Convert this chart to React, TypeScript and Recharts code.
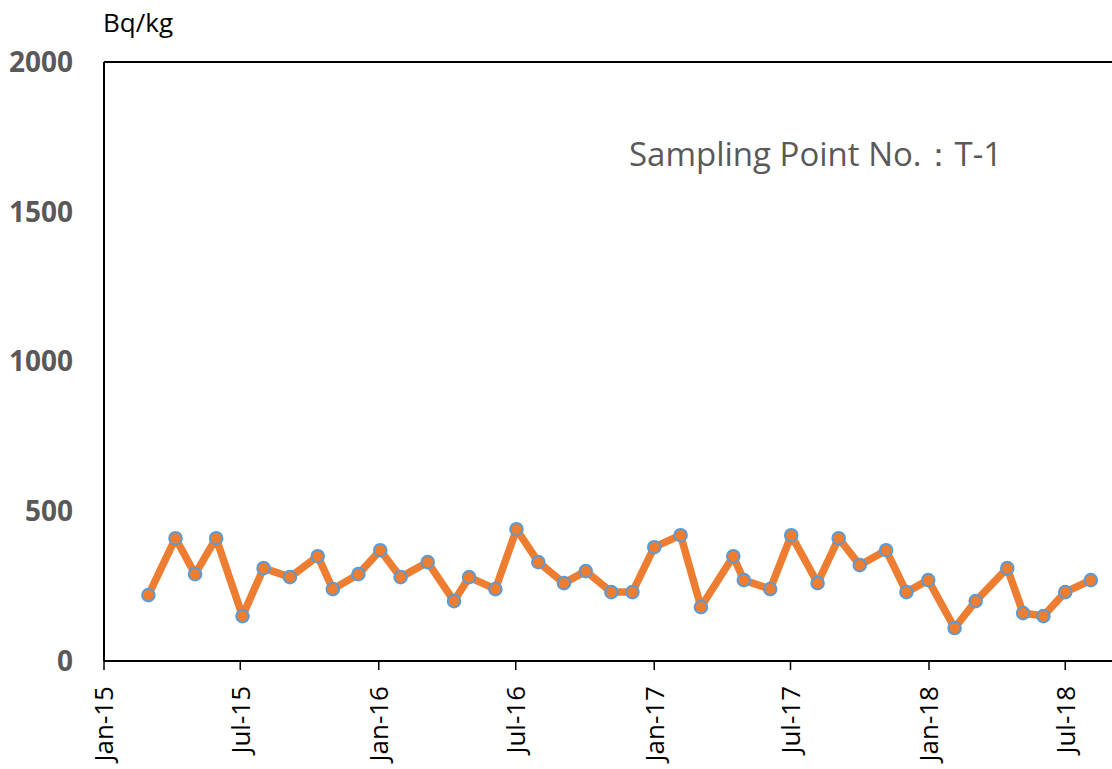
import { LineChart, Line, XAxis, YAxis, ReferenceLine } from 'recharts';

const sampleDates = [
  '2015-03-01', '2015-04-06', '2015-05-02', '2015-05-30', '2015-07-04', '2015-08-01',
  '2015-09-05', '2015-10-12', '2015-11-01', '2015-12-05', '2016-01-03', '2016-01-30',
  '2016-03-06', '2016-04-10', '2016-04-30', '2016-06-04', '2016-07-02', '2016-07-31',
  '2016-09-03', '2016-10-02', '2016-11-05', '2016-12-03', '2017-01-01', '2017-02-05',
  '2017-03-04', '2017-04-16', '2017-04-30', '2017-06-04', '2017-07-02', '2017-08-06',
  '2017-09-03', '2017-10-01', '2017-11-05', '2017-12-02', '2017-12-31', '2018-02-04',
  '2018-03-04', '2018-04-15', '2018-05-06', '2018-06-02', '2018-07-01', '2018-08-04',
];
const activity = [
  220, 410, 290, 410, 150, 310,
  280, 350, 240, 290, 370, 280,
  330, 200, 280, 240, 440, 330,
  260, 300, 230, 230, 380, 420,
  180, 350, 270, 240, 420, 260,
  410, 320, 370, 230, 270, 110,
  200, 310, 160, 150, 230, 270,
];
const xTickDates = [
  '2015-01-01', '2015-07-01', '2016-01-01', '2016-07-01',
  '2017-01-01', '2017-07-01', '2018-01-01', '2018-07-01',
];
const yTicks = [0, 500, 1000, 1500, 2000];
const xStart = '2015-01-01';
const xEnd = '2018-12-31';
const months = ['Jan', 'Feb', 'Mar', 'Apr', 'May', 'Jun', 'Jul', 'Aug', 'Sep', 'Oct', 'Nov', 'Dec'];

const toTime = (s: string) => Date.parse(s + 'T00:00:00Z');
const data = sampleDates.map((d, i) => ({ t: toTime(d), value: activity[i] }));

const fmtDate = (t: number) => {
  const d = new Date(t);
  return `${months[d.getUTCMonth()]}-${String(d.getUTCFullYear()).slice(2)}`;
};

const FONT = '"Open Sans", sans-serif';

const DateTick = ({ x, payload }: any) => (
  <text
    transform={`translate(${x},686) rotate(-90)`}
    textAnchor="end"
    dy="0.36em"
    fontFamily={FONT}
    fontSize={26}
    fill="#000"
  >
    {fmtDate(payload.value)}
  </text>
);

export default function App() {
  return (
    <div
      style={{
        position: 'fixed',
        left: 0,
        top: 0,
        width: 1112,
        height: 769,
        overflow: 'hidden',
        background: '#fff',
      }}
    >
      <LineChart width={1203} height={769} data={data} margin={{ top: 62, right: 0, bottom: 0, left: 0 }}>
        <XAxis
          dataKey="t"
          type="number"
          domain={[toTime(xStart), toTime(xEnd)]}
          ticks={xTickDates.map(toTime)}
          allowDataOverflow
          height={108}
          axisLine={{ stroke: '#000', strokeWidth: 2 }}
          tickLine={{ stroke: '#000', strokeWidth: 1.5 }}
          tickSize={9}
          tick={<DateTick />}
        />
        <YAxis
          domain={[0, 2000]}
          ticks={yTicks}
          width={104}
          axisLine={{ stroke: '#000', strokeWidth: 2 }}
          tickLine={false}
          tickSize={0}
          tickMargin={31}
          tick={{ fontFamily: FONT, fontSize: 28, fontWeight: 700, fill: '#595959' }}
        />
        <ReferenceLine y={2000} stroke="#000" strokeWidth={2} />
        <Line
          dataKey="value"
          stroke="#ED7D31"
          strokeWidth={7.5}
          strokeLinejoin="round"
          dot={{ r: 6.3, fill: '#ED7D31', stroke: '#5B9BD5', strokeWidth: 2 }}
          activeDot={false}
          isAnimationActive={false}
        />
      </LineChart>
      <svg
        width={1112}
        height={769}
        style={{ position: 'absolute', left: 0, top: 0, pointerEvents: 'none' }}
      >
        <text x={103} y={32} fontFamily={FONT} fontSize={26} fill="#000">
          Bq/kg
        </text>
        <text x={629} y={166} fontFamily={FONT} fontSize={33} fill="#595959">
          Sampling Point No.：T-1
        </text>
      </svg>
    </div>
  );
}
